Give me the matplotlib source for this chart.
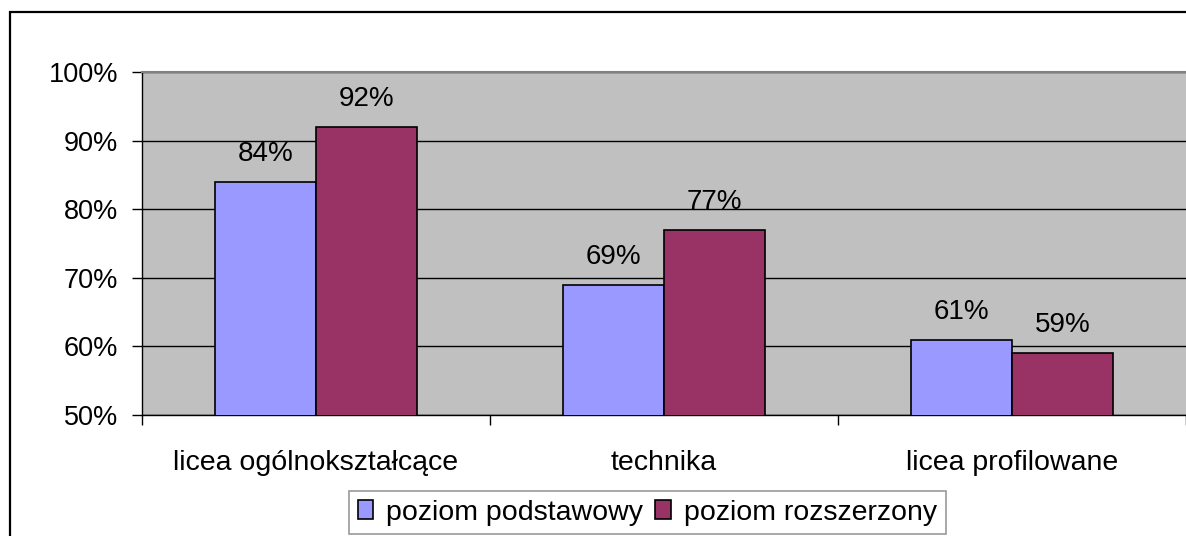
import matplotlib
matplotlib.use("Agg")
import matplotlib.pyplot as plt
from matplotlib.patches import Rectangle, Patch
import numpy as np

categories = ["licea ogólnokształcące", "technika", "licea profilowane"]
series_names = ["poziom podstawowy", "poziom rozszerzony"]
podstawowy = [84, 69, 61]
rozszerzony = [92, 77, 59]
yticks = [50, 60, 70, 80, 90, 100]
colors = ["#9999FF", "#993366"]

plt.rcParams['font.family'] = ['Liberation Sans', 'DejaVu Sans']
W, H = 1186, 536
fig = plt.figure(figsize=(W / 100, H / 100), dpi=100)

# outer frame
fig.patches.append(Rectangle((10 / W, -0.1), 1.2, 1 - 12 / H + 0.1, transform=fig.transFigure,
                             fill=False, edgecolor="black", linewidth=1.6))

left, right, top, bottom = 142, 1186, 72, 415
ax = fig.add_axes([left / W, 1 - bottom / H, (right - left) / W, (bottom - top) / H])
ax.set_facecolor("#C0C0C0")

x = np.arange(len(categories))
bw = 0.29
b1 = ax.bar(x - bw / 2, podstawowy, bw, color=colors[0], edgecolor="black", linewidth=1.2, zorder=3)
b2 = ax.bar(x + bw / 2, rozszerzony, bw, color=colors[1], edgecolor="black", linewidth=1.2, zorder=3)

for bars, vals in ((b1, podstawowy), (b2, rozszerzony)):
    for r, v in zip(bars, vals):
        ax.annotate(f"{v}%", (r.get_x() + r.get_width() / 2, v), xytext=(0, 15),
                    textcoords="offset points", ha="center", va="baseline", fontsize=20)

ax.set_ylim(50, 100)
ax.set_xlim(-0.5, 2.5)
ax.set_yticks(yticks)
ax.set_yticklabels([f"{t}%" for t in yticks], fontsize=19.5)
ax.yaxis.grid(True, color="black", linewidth=1.0, zorder=1)
ax.set_axisbelow(True)

ax.set_xticks(x)
ax.set_xticklabels(categories, fontsize=20.5)
ax.tick_params(axis="x", which="major", length=0, pad=25)
ax.set_xticks([-0.5, 0.5, 1.5, 2.5], minor=True)
ax.tick_params(axis="x", which="minor", length=7, width=1, direction="out")
ax.tick_params(axis="y", length=7, width=1, direction="out", pad=10)

ax.spines["right"].set_visible(False)
ax.spines["top"].set_color("#808080")
ax.spines["top"].set_linewidth(1.5)
ax.spines["left"].set_linewidth(1.0)
ax.spines["bottom"].set_linewidth(1.0)

handles = [Patch(facecolor=c, edgecolor="black", linewidth=1.2) for c in colors]
leg = fig.legend(handles, series_names, loc="upper left", bbox_to_anchor=(349 / W, 1 - 491 / H),
                 ncol=2, fontsize=20.5, frameon=True, fancybox=False, handlelength=0.56,
                 handleheight=0.6, handletextpad=0.45, columnspacing=0.42, borderpad=0.3,
                 borderaxespad=0)
leg.get_frame().set_edgecolor("#808080")
leg.get_frame().set_linewidth(1.2)

fig.savefig("out.png", dpi=100)
